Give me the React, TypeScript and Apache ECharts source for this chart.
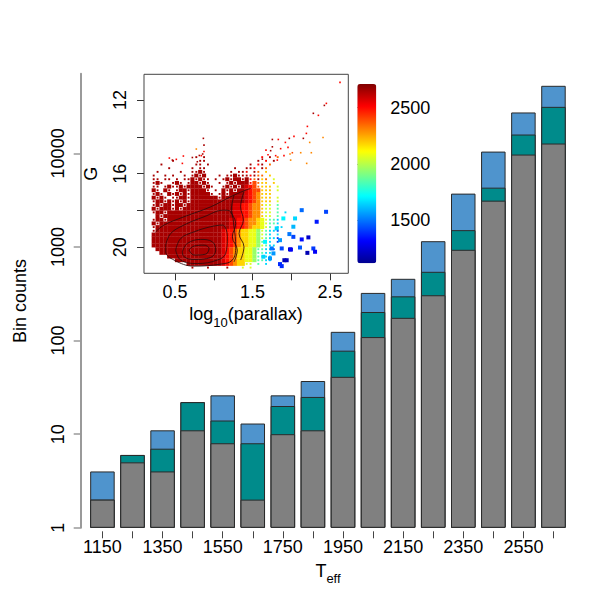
import { useEffect, useRef } from "react";
import * as echarts from "echarts";

const FONT = "Liberation Sans";

// ---------- main bar chart data ----------
const teffBins = ["1150", "1250", "1350", "1450", "1550", "1650", "1750", "1850", "1950", "2050", "2150", "2250", "2350", "2450", "2550", "2650"];
const graySeg = [2, 5, 4, 11, 8, 2, 10, 11, 41, 109, 175, 305, 933, 3124, 9710, 12740];
const tealSeg = [0, 1, 3, 11, 6, 6, 10, 14, 37, 93, 122, 238, 580, 1179, 6190, 18660];
const blueSeg = [2, 0, 4, 0, 12, 5, 6, 12, 46, 121, 160, 610, 2202, 6147, 11450, 21300];
const yTicks = [1, 10, 100, 1000, 10000];

// ---------- inset data ----------
const insetXTicks = [0.5, 1, 1.5, 2, 2.5];
const insetXLabels = [0.5, 1.5, 2.5];
const insetYTicks = [12, 14, 16, 18, 20];
const insetYLabels = [12, 16, 20];
const cbarTicks = [1500, 2000, 2500];

// Teff level per cell character (digits = filled cell, letters = sparse cell)
const cellLevels: Record<string, number> = {
  "0": 2650, "9": 2570, "8": 2490, "7": 2400, "6": 2290, "5": 2180, "4": 2080, "3": 1950, "2": 1780, "1": 1450,
  a: 2650, b: 2500, c: 2350, d: 2200, e: 2050, f: 1850, g: 1650, h: 1400, i: 1250,
};
// cell grid: columns log10(parallax) from 0.2 step 0.05, rows G from 15.0 step 0.2
const cellX0 = 0.225;
const cellDX = 0.05;
const cellG0 = 15.1;
const cellDG = 0.2;
const cellRows = [
  "...... .....a .a.... ...... ....b. a.c...",
  ".....a ...... aa.... ...... ...a.b .a....",
  "..a... .....a a.a... ...... .a.ba. c.....",
  "....a. ....a. aa.... ...a.. aab.ac ......",
  ".a.... .a..aa 0a.... ..a.aa b.ac.d ......",
  "a..a.a ..a.a0 a0...a .aa0aa abacc. d.....",
  "aa.aa. a.aa0a 0aa.a. a0a00a 0bcadc .e....",
  "a0a..a 0a.a00 a0a..a .a0a00 0b7cdd .d....",
  "aa.a0a a0a000 0a0a.. a0a0a0 987cdd d.e...",
  "0a.0a. a00a00 00a.a. 0a0a00 9877dd d.e...",
  "a0a.0a 0a0a00 000a.a 0a0000 9876dd d.....",
  "0a0a.a a00a00 00000a 000000 9876dd d.e...",
  "a00a0a 0a0a00 000000 000000 9876dd d.e...",
  "a0a00a 00a000 000000 000998 8766de e.f...",
  "0a000a 0a0000 000000 000998 8766de e.f...",
  "a00a00 000000 000000 000998 8766de e.f.g.",
  ".0a000 000000 000000 000998 8766de e.f...",
  "a00a00 000000 000000 009988 76654e ffg...",
  "0a0000 000000 000000 009988 76654e ffg...",
  "a00000 000000 000000 009988 76554e f.gg..",
  "a00000 000000 000000 988765 5443ef ggh...",
  "000000 000000 000000 988765 5443ef g.g...",
  "000000 000000 000000 988765 5443ef ggh...",
  "000000 000000 000000 988765 5443fg g.h...",
  "000000 000000 000000 988765 5443ef gg....",
  ".00000 000000 000000 987655 443ffg gh....",
  "..0000 000000 000000 987655 443ffg gh....",
  "....00 000000 000000 987655 443ffg g.....",
  "...... 000000 000000 987655 443ffg g.....",
  "...... ...000 000000 987655 ee.f.g ......",
  "...... ....a. ..a... .a...e .e.... ......",
];

// isolated points above the dense region [log10 parallax, G, Teff]
const sparsePoints = [
  [2.629, 11.04, 2500], [2.453, 12.18, 2500], [2.427, 12.29, 2650], [2.285, 12.72, 2650], [2.35, 12.83, 2500],
  [2.208, 13.43, 2500], [2.195, 13.81, 2500], [2.41, 14.03, 2300], [2.156, 14.08, 2650], [2.238, 14.3, 2300],
  [2.035, 13.97, 2500], [1.975, 14.08, 2650], [1.924, 14.3, 2500], [1.833, 14.14, 2500], [1.756, 14.14, 2650],
  [1.958, 14.57, 2500], [1.863, 14.64, 2500], [1.756, 14.54, 2650], [2.014, 14.86, 2400], [2.122, 14.86, 2300],
  [2.259, 14.86, 2300], [2.199, 15.44, 2300], [1.984, 14.93, 2300], [1.992, 15.26, 2300], [1.906, 15.02, 2500],
  [1.799, 15.02, 2500], [1.7, 14.97, 2500], [1.734, 14.75, 2650], [1.674, 14.72, 2500], [1.627, 15.21, 2650],
  [1.82, 15.26, 2500], [0.866, 14.08, 2650], [0.874, 14.45, 2650], [0.874, 14.79, 2500], [0.857, 14.93, 2650],
  [0.84, 15.02, 2500], [0.814, 15.01, 2650], [0.775, 14.66, 2300], [0.724, 15.12, 2650], [0.788, 15.35, 2650],
  [0.608, 15.04, 2500], [0.595, 15.44, 2500], [0.517, 15.22, 2500], [0.466, 15.26, 2650], [0.427, 15.15, 2500],
];

// larger cool-coloured cells on the right [log10 parallax, G, Teff]
const coolCells = [
  [2.135, 17.98, 1480], [2.449, 18.07, 1420], [2.328, 18.61, 1350], [2.221, 19.46, 1220], [2.135, 19.57, 1330],
  [2.027, 19.43, 1420], [1.984, 20.11, 1230], [1.877, 20.06, 1420], [1.996, 20.12, 1300], [1.911, 20.7, 1180],
  [1.941, 20.7, 1200], [1.855, 20.91, 1380], [1.877, 21.02, 1380], [2.285, 20.06, 1400], [2.307, 20.24, 1300],
  [2.208, 20.3, 1180], [2.113, 20.01, 1450], [1.748, 20.06, 1500], [1.77, 20.33, 1550], [2.049, 18.43, 1650],
  [1.898, 18.43, 1700], [2.027, 18.88, 1600], [1.812, 18.97, 1650], [1.976, 19.28, 1500], [1.855, 19.61, 1550],
  [1.662, 19.7, 1700], [1.726, 20.6, 1550], [1.64, 20.51, 1650],
];

// density contours [log10 parallax, G]
const contours = [
  [[0.681, 20.15], [0.745, 19.93], [0.874, 19.88], [0.939, 20.06], [0.896, 20.37], [0.745, 20.42], [0.681, 20.15]],
  [[0.595, 20.24], [0.659, 19.79], [0.831, 19.57], [0.982, 19.7], [1.025, 20.15], [0.96, 20.55], [0.745, 20.66], [0.616, 20.51], [0.595, 20.24]],
  [[0.509, 20.15], [0.573, 19.52], [0.745, 19.16], [0.96, 18.88], [1.111, 18.79], [1.175, 19.43], [1.154, 20.33], [1.046, 20.69], [0.788, 20.88], [0.573, 20.69], [0.509, 20.15]],
  [[0.38, 19.88], [0.444, 19.25], [0.616, 18.79], [0.874, 18.34], [1.132, 17.98], [1.218, 18.07], [1.261, 18.88], [1.283, 19.97], [1.24, 20.69], [1.089, 20.91], [0.745, 21.02], [0.487, 20.69], [0.38, 20.24], [0.38, 19.88]],
  [[1.261, 17.16], [1.227, 17.98], [1.283, 18.7], [1.24, 19.43], [1.304, 20.15], [1.261, 20.79]],
  [[1.39, 16.98], [1.347, 17.8], [1.382, 18.52], [1.326, 19.25], [1.39, 19.97], [1.347, 20.69]],
  [[0.251, 19.16], [0.358, 18.79], [0.616, 18.34], [0.96, 17.8], [1.218, 17.25], [1.39, 16.93], [1.476, 16.8]],
];

const jet = ["#00008F", "#0000FF", "#0080FF", "#00FFFF", "#80FF80", "#FFFF00", "#FF8000", "#FF0000", "#800000"];

function buildOption() {
  const grayTop = graySeg.map((v) => v);
  const tealTop = graySeg.map((v, i) => v + tealSeg[i]);
  const blueTop = graySeg.map((v, i) => v + tealSeg[i] + blueSeg[i]);

  const dense: number[][] = [];
  const sparse: number[][] = [];
  cellRows.forEach((row, j) => {
    const s = row.replace(/ /g, "");
    for (let i = 0; i < s.length; i++) {
      const ch = s[i];
      if (ch === ".") continue;
      const pt = [cellX0 + cellDX * i, cellG0 + cellDG * j, cellLevels[ch]];
      if (ch >= "0" && ch <= "9") dense.push(pt);
      else sparse.push(pt);
    }
  });

  const barBorder = { borderColor: "#2a2a2a", borderWidth: 1 };
  const FS = 18;
  const txt = { fontFamily: FONT, color: "#000", fontSize: FS };
  const solid = { opacity: 1 };

  const series: any[] = [
    { type: "bar", data: blueTop, barWidth: 24.5, barGap: "-100%", itemStyle: { color: "#4F94CD", ...barBorder }, silent: true },
    { type: "bar", data: tealTop, barWidth: 24.5, barGap: "-100%", itemStyle: { color: "#008B8B", ...barBorder }, silent: true },
    { type: "bar", data: grayTop, barWidth: 24.5, barGap: "-100%", itemStyle: { color: "#808080", ...barBorder }, silent: true },
    { type: "scatter", xAxisIndex: 1, yAxisIndex: 1, data: dense, symbol: "rect", symbolSize: [4.1, 3.9], itemStyle: solid, silent: true, z: 3 },
    { type: "scatter", xAxisIndex: 1, yAxisIndex: 1, data: sparse, symbol: "rect", symbolSize: [1.9, 1.9], itemStyle: solid, silent: true, z: 3 },
    { type: "scatter", xAxisIndex: 1, yAxisIndex: 1, data: sparsePoints, symbol: "rect", symbolSize: [1.6, 1.6], itemStyle: solid, silent: true, z: 3 },
    { type: "scatter", xAxisIndex: 1, yAxisIndex: 1, data: coolCells, symbol: "rect", symbolSize: [4, 4], itemStyle: solid, silent: true, z: 3 },
  ];
  contours.forEach((c) => {
    series.push({
      type: "line", xAxisIndex: 1, yAxisIndex: 1, data: c, showSymbol: false, smooth: 0.4, silent: true, z: 4,
      lineStyle: { color: "#2a0d0d", width: 1, opacity: 0.85 },
    });
  });

  return {
    animation: false,
    textStyle: { fontFamily: FONT },
    grid: [
      { left: 87.4, width: 481.1, top: 73.8, height: 454 },
      { left: 144, top: 74.3, width: 204.3, height: 199, show: true, backgroundColor: "#fff", borderColor: "#444", borderWidth: 1, z: 1 },
      { left: 357.3, top: 84, width: 19, height: 179.3 },
    ],
    xAxis: [
      {
        type: "category", gridIndex: 0, data: teffBins, offset: 3.5,
        axisLine: { show: false },
        axisTick: { show: true, alignWithLabel: true, interval: 0, length: 7, lineStyle: { color: "#444" } },
        axisLabel: { ...txt, interval: 1, margin: 7 },
      },
      {
        type: "value", gridIndex: 1, min: 0.1, max: 2.736,
        axisLine: { show: false }, splitLine: { show: false },
        axisTick: { show: true, customValues: insetXTicks, length: 7, lineStyle: { color: "#333" } },
        axisLabel: { ...txt, customValues: insetXLabels, margin: 10, formatter: (v: number) => v.toFixed(1) },
      },
      { type: "value", gridIndex: 2, min: 0, max: 1, show: false },
    ],
    yAxis: [
      {
        type: "log", logBase: 10, gridIndex: 0, min: 1, max: 70800, offset: 6.7,
        axisLine: { show: true, lineStyle: { color: "#9a9a9a", width: 2 } },
        axisTick: { show: true, customValues: yTicks, length: 7, lineStyle: { color: "#9a9a9a", width: 1.5 } },
        axisLabel: { ...txt, customValues: yTicks, rotate: 90, margin: 14, formatter: (v: number) => String(Math.round(v)) },
        splitLine: { show: false },
      },
      {
        type: "value", gridIndex: 1, inverse: true, min: 10.6, max: 21.41,
        axisLine: { show: false }, splitLine: { show: false },
        axisTick: { show: true, customValues: insetYTicks, length: 7, lineStyle: { color: "#333" } },
        axisLabel: { ...txt, customValues: insetYLabels, rotate: 90, margin: 15, formatter: (v: number) => String(v) },
      },
      {
        type: "value", gridIndex: 2, position: "right", min: 1115, max: 2711,
        axisLine: { show: false }, splitLine: { show: false },
        axisTick: { show: true, customValues: cbarTicks, length: 7, lineStyle: { color: "#333" } },
        axisLabel: { ...txt, customValues: cbarTicks, margin: 14, formatter: (v: number) => String(v) },
      },
    ],
    visualMap: {
      type: "continuous", min: 1115, max: 2711, dimension: 2, seriesIndex: [3, 4, 5, 6],
      inRange: { color: jet }, calculable: false, show: true, orient: "vertical",
      left: 357.3, top: 84, itemWidth: 19, itemHeight: 179.3, padding: 0, text: ["", ""],
      hoverLink: false,
    },
    graphic: [
      { type: "text", x: 20, y: 301, rotation: Math.PI / 2, style: { text: "Bin counts", fontSize: FS, fontFamily: FONT, fill: "#000", textAlign: "center", textVerticalAlign: "middle" } },
      { type: "text", x: 90.8, y: 173.8, rotation: Math.PI / 2, style: { text: "G", fontSize: FS, fontFamily: FONT, fill: "#000", textAlign: "center", textVerticalAlign: "middle" } },
      {
        type: "text", x: 328, y: 562,
        style: {
          text: "{m|T}{s|eff}", textAlign: "center", textVerticalAlign: "top", fill: "#000",
          rich: {
            m: { fontSize: FS, fontFamily: FONT, lineHeight: 21, verticalAlign: "top" },
            s: { fontSize: 13, fontFamily: FONT, lineHeight: 13, verticalAlign: "top", padding: [10, 0, 0, 0] },
          },
        },
      },
      {
        type: "text", x: 246, y: 305,
        style: {
          text: "{m|log}{s|10}{m|(parallax)}", textAlign: "center", textVerticalAlign: "top", fill: "#000",
          rich: {
            m: { fontSize: FS, fontFamily: FONT, lineHeight: 21, verticalAlign: "top" },
            s: { fontSize: 13, fontFamily: FONT, lineHeight: 13, verticalAlign: "top", padding: [11, 0, 0, 0] },
          },
        },
      },
    ],
    series,
  };
}

export default function App() {
  const ref = useRef<HTMLDivElement>(null);
  useEffect(() => {
    if (!ref.current) return;
    const chart = echarts.init(ref.current, undefined, { renderer: "svg" });
    chart.setOption(buildOption() as any);
    return () => chart.dispose();
  }, []);
  return <div ref={ref} style={{ position: "fixed", left: 0, top: 0, width: 600, height: 600, background: "#fff" }} />;
}
